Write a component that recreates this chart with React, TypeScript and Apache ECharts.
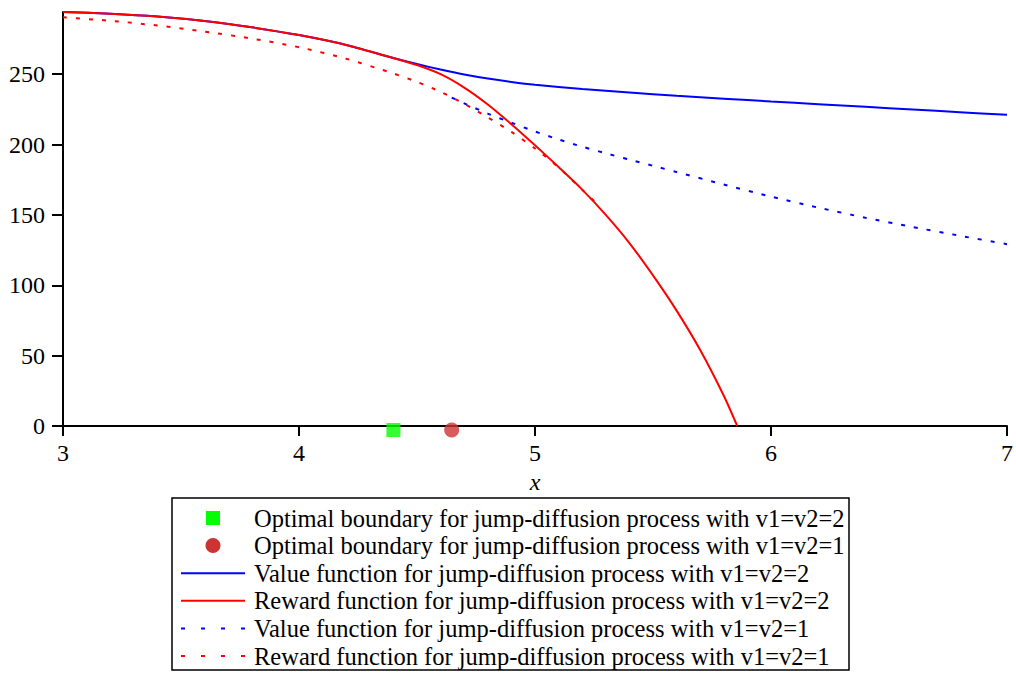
import React, { useEffect, useRef } from "react";
import * as echarts from "echarts";

const FONT = "Liberation Serif";

// Optimal boundaries
const boundaryV2 = [[4.4, 0]];
const boundaryV1 = [[4.647, 0]];

// Reward function, v1=v2=2
const xRewardV2 = [3, 3.2, 3.4, 3.6, 3.8, 4.0, 4.2, 4.4, 4.5, 4.6, 4.7, 4.8, 4.9, 5.0, 5.1, 5.2, 5.3, 5.4, 5.5, 5.6, 5.7, 5.8, 5.857];
const yRewardV2 = [294.2, 293.0, 291.0, 287.8, 283.3, 277.8, 270.8, 261.5, 256.5, 250.0, 240.5, 228.5, 214.5, 199.5, 184.0, 168.0, 150.0, 130.0, 107.0, 82.0, 54.0, 21.5, 0];

// Value function, v1=v2=2
const xValueV2 = [3, 3.2, 3.4, 3.6, 3.8, 4.0, 4.2, 4.4, 4.5, 4.6, 4.7, 4.8, 4.9, 5.0, 5.2, 5.4, 5.6, 5.8, 6.0, 6.2, 6.4, 6.6, 6.8, 7.0];
const yValueV2 = [294.2, 293.0, 291.0, 287.8, 283.3, 277.8, 270.8, 261.5, 257.2, 253.3, 249.8, 246.9, 244.5, 242.5, 239.5, 237.0, 234.7, 232.6, 230.6, 228.7, 226.8, 224.9, 223.0, 221.1];

// Value function, v1=v2=1
const xValueV1 = [4.647, 4.7, 4.8, 4.9, 5.0, 5.1, 5.2, 5.3, 5.4, 5.5, 5.6, 5.8, 6.0, 6.2, 6.4, 6.6, 6.8, 7.0];
const yValueV1 = [233.4, 229.3, 222.0, 215.5, 209.3, 203.6, 198.5, 193.8, 189.3, 184.9, 180.5, 171.6, 163.0, 155.2, 148.0, 141.4, 135.2, 129.2];

// Reward function, v1=v2=1
const xRewardV1 = [3, 3.2, 3.4, 3.6, 3.8, 4.0, 4.2, 4.4, 4.5, 4.6, 4.7, 4.8, 4.9, 5.0, 5.1, 5.2, 5.26];
const yRewardV1 = [290.4, 288.0, 284.6, 280.3, 275.3, 269.2, 261.0, 250.5, 244.5, 237.5, 229.0, 219.3, 209.0, 197.2, 183.8, 167.8, 158.5];

const yTicks = [0, 50, 100, 150, 200, 250];

const names = [
  "Optimal boundary for jump-diffusion process with v1=v2=2",
  "Optimal boundary for jump-diffusion process with v1=v2=1",
  "Value function for jump-diffusion process with v1=v2=2",
  "Reward function for jump-diffusion process with v1=v2=2",
  "Value function for jump-diffusion process with v1=v2=1",
  "Reward function for jump-diffusion process with v1=v2=1",
];

const BLUE = "#0000ff";
const RED = "#ff0000";
const GREEN = "#00ff00";
const DOT_RED = "#cd3333";

const zip = (xs: number[], ys: number[]) => xs.map((x, i) => [x, ys[i]]);

function legendGraphic() {
  const boxX = 172, boxY = 498, boxW = 677, boxH = 172;
  const rowY0 = 518, rowStep = 27.6;
  const iconX0 = 181, iconX1 = 245, iconC = 213, textX = 254;
  const kinds = ["square", "circle", "solid-blue", "solid-red", "dot-blue", "dot-red"];
  const children: any[] = [
    {
      type: "rect",
      shape: { x: boxX, y: boxY, width: boxW, height: boxH },
      style: { fill: "none", stroke: "#000", lineWidth: 1.5 },
    },
  ];
  kinds.forEach((k, i) => {
    const yc = rowY0 + i * rowStep;
    if (k === "square") {
      children.push({ type: "rect", shape: { x: iconC - 7, y: yc - 7, width: 14, height: 14 }, style: { fill: GREEN } });
    } else if (k === "circle") {
      children.push({ type: "circle", shape: { cx: iconC, cy: yc, r: 7.5 }, style: { fill: DOT_RED } });
    } else {
      const color = k.endsWith("blue") ? BLUE : RED;
      const dash = k.startsWith("dot") ? [4, 16] : null;
      children.push({
        type: "line",
        shape: { x1: iconX0, y1: yc, x2: iconX1, y2: yc },
        style: { stroke: color, lineWidth: 2, lineDash: dash },
      });
    }
    children.push({
      type: "text",
      x: textX,
      y: yc,
      style: {
        text: names[i],
        fontFamily: FONT,
        fontSize: 24.5,
        fill: "#000",
        verticalAlign: "middle",
        align: "left",
      },
    });
  });
  return children;
}

export default function App() {
  const ref = useRef<HTMLDivElement>(null);
  useEffect(() => {
    if (!ref.current) return;
    const chart = echarts.init(ref.current, undefined, { renderer: "svg" });
    const dotted = [4, 9];
    const lineSeries = (name: string, color: string, data: number[][], dashed: boolean) => ({
      name,
      type: "line",
      symbol: "none",
      showSymbol: false,
      lineStyle: { color, width: 2, type: dashed ? dotted : "solid" },
      itemStyle: { color },
      data,
      smooth: 0.25,
    });
    chart.setOption({
      animation: false,
      backgroundColor: "#ffffff",
      textStyle: { fontFamily: FONT, color: "#000" },
      grid: { left: 63, right: 6, top: 12, bottom: 249, containLabel: false },
      xAxis: {
        type: "value",
        min: 3,
        max: 7,
        interval: 1,
        name: "x",
        nameLocation: "middle",
        nameGap: 44,
        nameTextStyle: { fontFamily: FONT, fontSize: 24, fontStyle: "italic", color: "#000" },
        axisLine: { show: true, onZero: false, lineStyle: { color: "#000", width: 2 } },
        axisTick: { show: true, length: 10, lineStyle: { color: "#000", width: 2 } },
        axisLabel: { fontFamily: FONT, fontSize: 24, color: "#000", margin: 15 },
        splitLine: { show: false },
      },
      yAxis: {
        type: "value",
        min: 0,
        max: 294.2,
        interval: 50,
        axisLine: { show: true, lineStyle: { color: "#000", width: 2 } },
        axisTick: { show: true, length: 11, customValues: yTicks, lineStyle: { color: "#000", width: 2 } },
        axisLabel: { fontFamily: FONT, fontSize: 24, color: "#000", margin: 18, customValues: yTicks },
        splitLine: { show: false },
      },
      legend: { show: false },
      graphic: legendGraphic(),
      series: [
        {
          name: names[0],
          type: "scatter",
          symbol: "rect",
          symbolSize: 14,
          symbolOffset: [0, 4],
          clip: false,
          itemStyle: { color: GREEN },
          data: boundaryV2,
          z: 5,
        },
        {
          name: names[1],
          type: "scatter",
          symbol: "circle",
          symbolSize: 15,
          symbolOffset: [0, 4],
          clip: false,
          itemStyle: { color: DOT_RED },
          data: boundaryV1,
          z: 5,
        },
        lineSeries(names[2], BLUE, zip(xValueV2, yValueV2), false),
        lineSeries(names[3], RED, zip(xRewardV2, yRewardV2), false),
        lineSeries(names[4], BLUE, zip(xValueV1, yValueV1), true),
        lineSeries(names[5], RED, zip(xRewardV1, yRewardV1), true),
      ],
    });
    return () => chart.dispose();
  }, []);
  return (
    <div
      ref={ref}
      style={{ position: "fixed", left: 0, top: 0, width: 1016, height: 675 }}
    />
  );
}
